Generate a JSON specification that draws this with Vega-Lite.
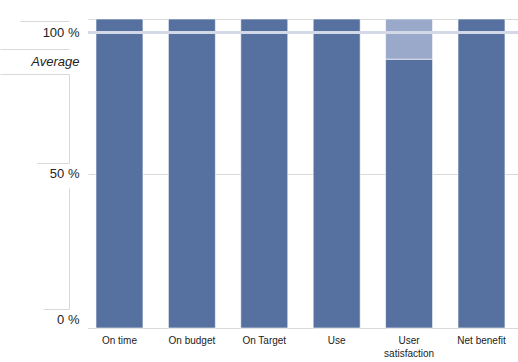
{
  "$schema": "https://vega.github.io/schema/vega-lite/v6.json",
  "width": 430,
  "height": 309,
  "autosize": {"type": "none"},
  "padding": {"left": 88, "top": 19, "right": 0, "bottom": 34},
  "background": "white",
  "config": {"view": {"stroke": null}},
  "data": {
    "values": [
      {"category": "On time", "part": "main", "value": 100, "order": 1},
      {"category": "On budget", "part": "main", "value": 100, "order": 1},
      {"category": "On Target", "part": "main", "value": 100, "order": 1},
      {"category": "Use", "part": "main", "value": 100, "order": 1},
      {"category": "User satisfaction", "part": "main", "value": 87, "order": 1},
      {"category": "User satisfaction", "part": "rest", "value": 13, "order": 2},
      {"category": "Net benefit", "part": "main", "value": 100, "order": 1}
    ]
  },
  "layer": [
    {
      "mark": {"type": "bar", "stroke": "#ffffff", "strokeWidth": 1, "strokeOpacity": 0.6},
      "encoding": {
        "x": {
          "field": "category", "type": "nominal", "sort": null,
          "scale": {"paddingInner": 0.351, "paddingOuter": 0.145, "align": 0.38},
          "axis": {
            "title": null, "labelAngle": 0, "domainColor": "#D9D9D9", "ticks": false,
            "labelFont": "Liberation Sans", "labelFontSize": 10, "labelColor": "#222222",
            "labelPadding": 7, "labelLineHeight": 13,
            "labelExpr": "datum.label == 'User satisfaction' ? ['User', 'satisfaction'] : datum.label"
          }
        },
        "y": {
          "field": "value", "type": "quantitative", "stack": "zero",
          "scale": {"domain": [0, 100], "nice": false},
          "axis": {"orient": "left", "title": null, "values": [0, 50, 100], "grid": true, "gridColor": "#D9D9D9", "labels": false, "ticks": false, "domain": false}
        },
        "color": {"field": "part", "type": "nominal", "scale": {"domain": ["main", "rest"], "range": ["#56719F", "#9AA9C9"]}, "legend": null},
        "order": {"field": "order"}
      }
    },
    {
      "mark": {"type": "rule", "color": "#D3D9E6", "strokeWidth": 2.5},
      "encoding": {
        "y": {
          "datum": 95.6, "type": "quantitative",
          "axis": {
            "orient": "left", "title": null, "values": [2.6, 50, 86.1, 95.6], "grid": false, "ticks": false, "domain": false,
            "labelPadding": 9, "labelFont": "Liberation Sans", "labelFontSize": 13, "labelColor": "#222222",
            "labelBaseline": "middle",
            "labelFontStyle": {"condition": {"test": "datum.value > 80 && datum.value < 90", "value": "italic"}, "value": "normal"},
            "labelExpr": "datum.value > 95 ? '100 %' : datum.value > 80 ? 'Average' : datum.value > 40 ? '50 %' : '0 %'"
          }
        }
      }
    },
    {
      "mark": {"type": "text", "text": ""},
      "encoding": {
        "y": {
          "datum": 0, "type": "quantitative",
          "axis": {
            "orient": "left", "title": null, "offset": 19, "values": [99.4, 90.3, 82.2, 53.4, 6.1],
            "grid": false, "labels": false, "domain": true, "domainColor": "#D9D9D9",
            "domainDash": [121, 25, 89, 100], "domainDashOffset": 316,
            "ticks": true, "tickColor": "#D9D9D9",
            "tickSize": {"condition": [
              {"test": "datum.value > 80 && datum.value < 95", "value": 69},
              {"test": "datum.value > 99", "value": 49},
              {"test": "datum.value > 50 && datum.value < 60", "value": 32}
            ], "value": 26}
          }
        }
      }
    }
  ],
  "resolve": {"axis": {"y": "independent"}}
}
